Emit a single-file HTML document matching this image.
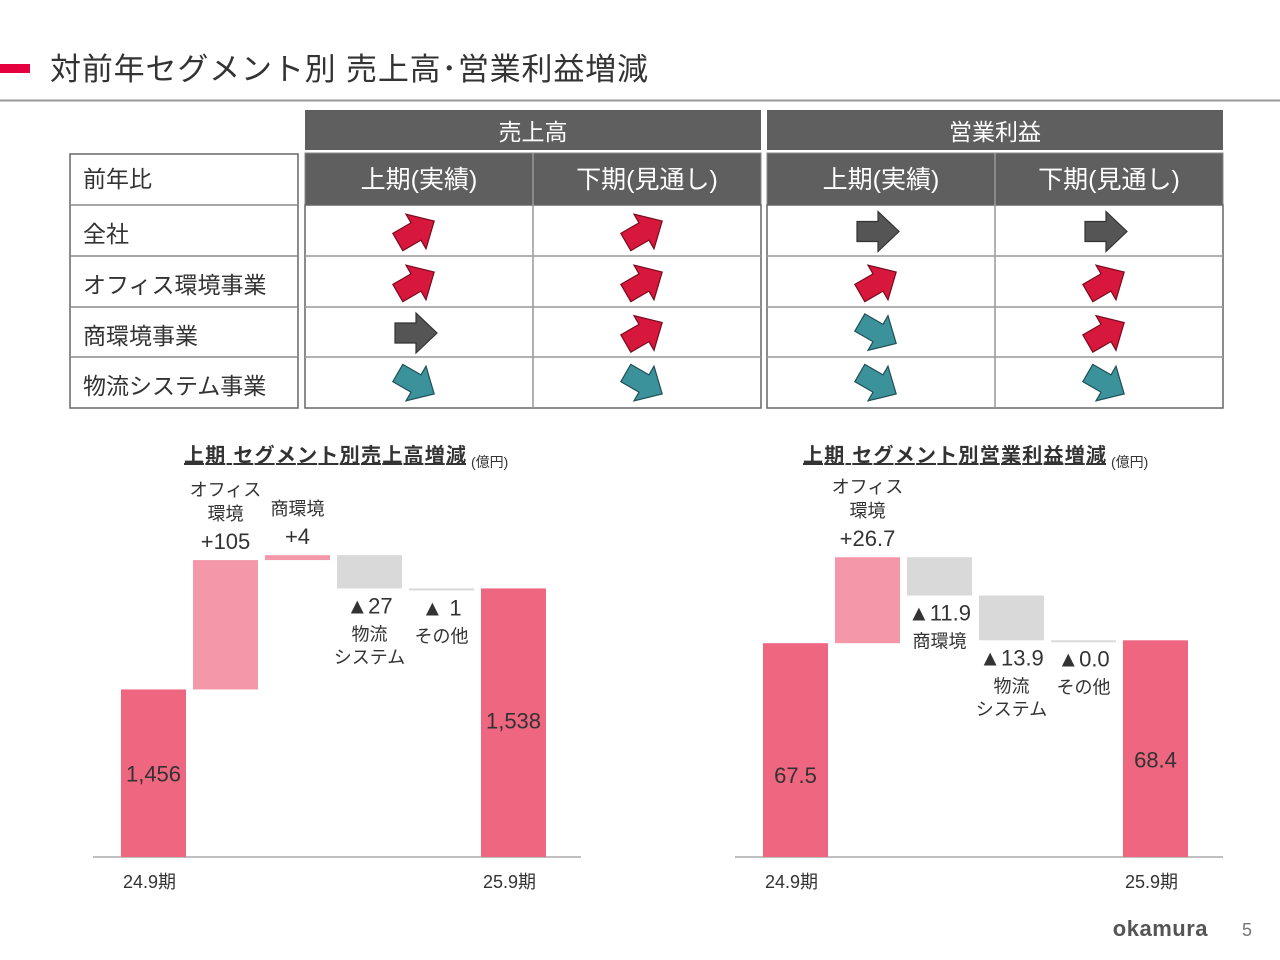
<!DOCTYPE html>
<html><head><meta charset="utf-8">
<style>
html,body{margin:0;padding:0;background:#fff;}
svg{display:block;font-family:"Liberation Sans","Noto Sans CJK JP",sans-serif;}
</style></head>
<body>
<svg id="s" width="1280" height="960" viewBox="0 0 1280 960">
<rect x="0" y="64" width="30" height="9" fill="#e5003e"/>
<text x="50" y="80" font-size="31" fill="#333" textLength="598" lengthAdjust="spacing">対前年セグメント別  売上高･営業利益増減</text>
<line x1="0" y1="100.5" x2="1280" y2="100.5" stroke="#999" stroke-width="2"/>
<g id="table"></g>
<g id="c1"></g>
<g id="c2"></g>
<text x="1208" y="936" font-size="22" font-weight="bold" fill="#555" text-anchor="end" letter-spacing="0.5">okamura</text>
<text x="1252" y="936" font-size="18" fill="#777" text-anchor="end">5</text>
</svg>
<script>
const NS='http://www.w3.org/2000/svg';
function mk(p,tag,a,txt){const e=document.createElementNS(NS,tag);for(const k in a)e.setAttribute(k,a[k]);if(txt!==undefined)e.textContent=txt;p.appendChild(e);return e;}

// ---------- table data ----------
const rowLabels=['全社','オフィス環境事業','商環境事業','物流システム事業'];
const colLabels=['上期(実績)','下期(見通し)','上期(実績)','下期(見通し)'];
const groupLabels=['売上高','営業利益'];
// u=up, f=flat, d=down
const trends=[['u','u','f','f'],['u','u','u','u'],['f','u','d','u'],['d','d','d','d']];

const T=document.getElementById('table');
const colX=[305,533,767,995], colW=228;
const rowY=[205,256,307,357,408];
[[305,456],[767,456]].forEach((g,i)=>{
  const r=mk(T,'rect',{x:g[0],y:110,width:g[1],height:40,fill:'#5f5f5f'});
  
  const t=mk(T,'text',{x:g[0]+g[1]/2,y:140,'font-size':23,fill:'#fff','text-anchor':'middle'},groupLabels[i]);
  
});
colX.forEach((x,i)=>{
  const r=mk(T,'rect',{x:x,y:153,width:colW,height:52,fill:'#5f5f5f',stroke:'#888','stroke-width':1});
  
  const t=mk(T,'text',{x:x+colW/2,y:188,'font-size':25,fill:'#fff','text-anchor':'middle'},colLabels[i]);
  
});
mk(T,'rect',{x:70,y:154,width:228,height:254,fill:'none',stroke:'#666','stroke-width':1.5});
mk(T,'line',{x1:70,y1:205,x2:298,y2:205,stroke:'#888','stroke-width':1.5});
let h=mk(T,'text',{x:83,y:187,'font-size':23,fill:'#333'},'前年比');

rowLabels.forEach((l,i)=>{
  if(i>0)mk(T,'line',{x1:70,y1:rowY[i],x2:298,y2:rowY[i],stroke:'#888','stroke-width':1.5});
  const t=mk(T,'text',{x:83,y:rowY[i]+37,'font-size':23,fill:'#333'},l);
  
});
[[305,761],[767,1223]].forEach(g=>{
  mk(T,'rect',{x:g[0],y:205,width:g[1]-g[0],height:203,fill:'none',stroke:'#666','stroke-width':1.5});
  mk(T,'line',{x1:g[0]+228,y1:153,x2:g[0]+228,y2:408,stroke:'#999','stroke-width':1.5});
  for(let i=1;i<4;i++)mk(T,'line',{x1:g[0],y1:rowY[i],x2:g[1],y2:rowY[i],stroke:'#999','stroke-width':1.5});
});
const arrowPts='-21,-10 0,-10 0,-20 21,0 0,20 0,10 -21,10';
const styleMap={u:['#d7173b','#7a0a1f',-30],f:['#555','#333',0],d:['#3b929b','#1f4f55',30]};
trends.forEach((row,ri)=>row.forEach((v,ci)=>{
  const s=styleMap[v];
  const cx=colX[ci]+colW/2-3, cy=rowY[ri]+(rowY[ri+1]-rowY[ri])/2+1;
  const a=mk(T,'polygon',{points:arrowPts,fill:s[0],stroke:s[1],'stroke-width':1.2,transform:`translate(${cx},${cy}) rotate(${s[2]})`});
  
}));

// ---------- waterfall data ----------
const salesSteps=[1456,105,4,-27,-1,1538];
const salesLabels=['1,456','+105','+4','▲27','▲ 1','1,538'];
const salesCats=['24.9期','オフィス\n環境','商環境','物流\nシステム','その他','25.9期'];
const salesMin=1320, salesScale=1.232;

const profitSteps=[67.5,26.7,-11.9,-13.9,0.0,68.4];
const profitLabels=['67.5','+26.7','▲11.9','▲13.9','▲0.0','68.4'];
const profitCats=['24.9期','オフィス\n環境','商環境','物流\nシステム','その他','25.9期'];
const profitMin=1.1, profitScale=3.22;

function waterfall(id,x0,steps,labels,cats,vmin,scale,title,titleX,titleW,offFirst,offLast){
  const G=document.getElementById(id);
  const base=857;
  const y=v=>base-(v-vmin)*scale;
  const bx=i=>x0+i*72;
  const tt=mk(G,'text',{x:titleX,y:462,'font-size':20,'font-weight':'bold',fill:'#333','text-decoration':'underline',textLength:titleW,lengthAdjust:'spacing'},title);
  
  const un=mk(G,'text',{x:titleX+titleW+5,y:467,'font-size':14,fill:'#333'},'(億円)');
  
  const ax=mk(G,'line',{x1:x0-28,y1:base,x2:x0+5*72+100,y2:base,stroke:'#aaa','stroke-width':1.5});
  
  let run=0;
  steps.forEach((v,i)=>{
    const last=i===steps.length-1, first=i===0;
    let top,bot,fill;
    if(first||last){top=y(v);bot=base;fill='#ef6680';if(first)run=v;}
    else{const a=run,b=run+v;run=b;top=y(Math.max(a,b));bot=y(Math.min(a,b));fill=v>0?'#f497a9':'#d9d9d9';}
    const hgt=Math.max(bot-top,2);
    const r=mk(G,'rect',{x:bx(i),y:top,width:65,height:hgt,fill:fill});
    
    
    const cx=bx(i)+32.5;
    if(first||last){
      const t=mk(G,'text',{x:cx,y:top+(first?offFirst:offLast),'font-size':22,fill:'#333','text-anchor':'middle'},labels[i]);
      
      const c=mk(G,'text',{x:cx-4,y:888,'font-size':18,fill:'#333','text-anchor':'middle'},cats[i]);
      
    } else if(v>0){
      const t=mk(G,'text',{x:cx,y:top-11,'font-size':22,fill:'#333','text-anchor':'middle'},labels[i]);
      
      const lines=cats[i].split('\n');
      lines.forEach((l,k)=>{const c=mk(G,'text',{x:cx,y:top-40-(lines.length-1-k)*24,'font-size':18,fill:'#333','text-anchor':'middle'},l);
        });
    } else {
      const t=mk(G,'text',{x:cx,y:bot+(hgt<4?26:25),'font-size':22,fill:'#333','text-anchor':'middle'},labels[i]);
      
      const lines=cats[i].split('\n');
      lines.forEach((l,k)=>{const c=mk(G,'text',{x:cx,y:bot+(hgt<4?53:52)+k*23,'font-size':18,fill:'#333','text-anchor':'middle'},l);
        });
    }
  });
}
waterfall('c1',121,salesSteps,salesLabels,salesCats,salesMin,salesScale,'上期  セグメント別売上高増減',184,282,92,140);
waterfall('c2',763,profitSteps,profitLabels,profitCats,profitMin,profitScale,'上期  セグメント別営業利益増減',803,303,140,127);
</script>
</body></html>
